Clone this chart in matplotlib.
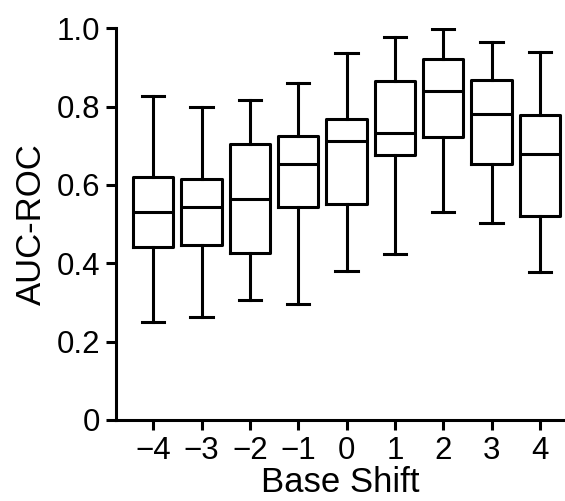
import matplotlib
matplotlib.use('Agg')
import matplotlib.pyplot as plt

plt.rcParams['font.family'] = ['Liberation Sans', 'DejaVu Sans']

# box statistics
shifts = [-4, -3, -2, -1, 0, 1, 2, 3, 4]
whisker_low = [0.251, 0.264, 0.306, 0.295, 0.381, 0.424, 0.531, 0.504, 0.377]
q1 = [0.441, 0.447, 0.426, 0.543, 0.551, 0.676, 0.723, 0.654, 0.522]
median = [0.530, 0.545, 0.564, 0.653, 0.712, 0.732, 0.841, 0.781, 0.678]
q3 = [0.621, 0.615, 0.704, 0.725, 0.768, 0.865, 0.922, 0.868, 0.778]
whisker_high = [0.827, 0.800, 0.817, 0.860, 0.938, 0.977, 0.997, 0.966, 0.939]

y_ticks = [0, 0.2, 0.4, 0.6, 0.8, 1.0]
y_labels = ['0', '0.2', '0.4', '0.6', '0.8', '1.0']
x_labels = [str(s).replace('-', '\u2212') for s in shifts]

stats = []
for s, lo, a, m, b, hi in zip(shifts, whisker_low, q1, median, q3, whisker_high):
    stats.append(dict(label=str(s), whislo=lo, q1=a, med=m, q3=b, whishi=hi, fliers=[]))

fig = plt.figure(figsize=(5.65, 5.01), dpi=100)
ax = fig.add_axes([0.2053, 0.1617, 0.7947, 0.7818])

lw = 2.2
line_kw = dict(color='black', linewidth=lw)
ax.bxp(stats, positions=shifts, widths=0.83, showfliers=False,
       boxprops=line_kw, medianprops=line_kw, whiskerprops=line_kw,
       capprops=line_kw, capwidths=0.46)

ax.set_xlim(-4.77, 4.52)
ax.set_ylim(0, 1.0)
ax.set_xticks(shifts)
ax.set_xticklabels(x_labels)
ax.set_yticks(y_ticks)
ax.set_yticklabels(y_labels)

for side in ('top', 'right'):
    ax.spines[side].set_visible(False)
for side in ('left', 'bottom'):
    ax.spines[side].set_linewidth(lw)

ax.tick_params(axis='both', direction='out', length=7.5, width=lw,
               labelsize=22.5, pad=4)
ax.set_xlabel('Base Shift', fontsize=25, labelpad=0)
ax.set_ylabel('AUC-ROC', fontsize=25, labelpad=6)

fig.savefig('out.png', dpi=100)
